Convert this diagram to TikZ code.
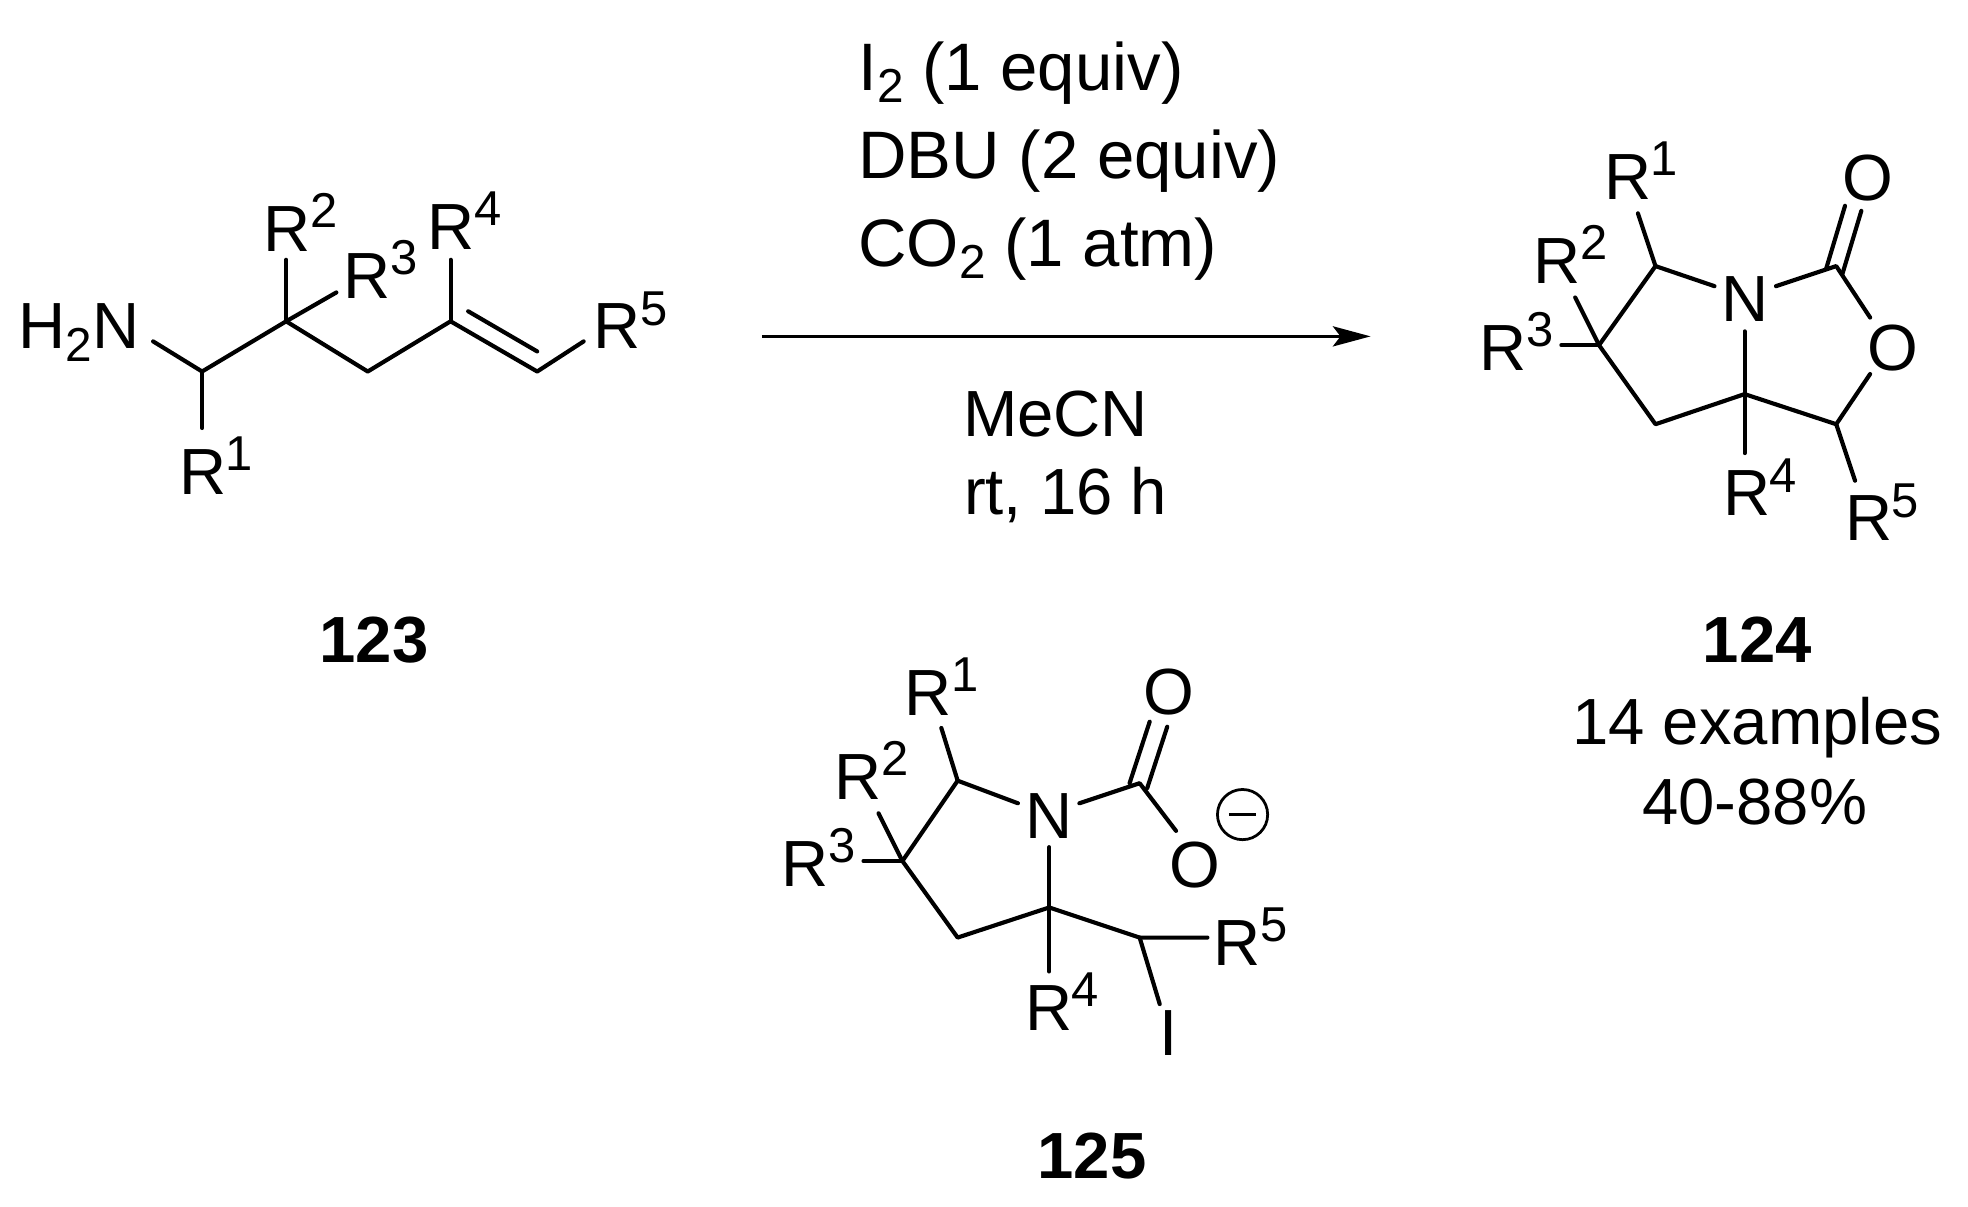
\documentclass[tikz,border=0pt]{standalone}
\usepackage{fontspec}
\setmainfont{Liberation Sans}
\usetikzlibrary{arrows.meta}
\tikzset{
 x=1pt,y=-1pt,
 bond/.style={line width=3.3pt,line cap=round,line join=round},
 atom/.style={inner sep=0pt,outer sep=0pt,anchor=base west,font=\fontsize{52}{52}\selectfont},
 catom/.style={inner sep=0pt,outer sep=0pt,anchor=base,font=\fontsize{52}{52}\selectfont},
 lab/.style={inner sep=0pt,outer sep=0pt,anchor=base west,font=\fontsize{53.5}{53.5}\selectfont},
 clab/.style={inner sep=0pt,outer sep=0pt,anchor=base,font=\fontsize{52}{52}\selectfont},
 cpd/.style={inner sep=0pt,outer sep=0pt,anchor=base,font=\fontsize{52}{52}\selectfont\bfseries},
}
\newcommand{\Rr}[1]{R\kern-0.5pt\raisebox{19pt}{\fontsize{39}{39}\selectfont #1}}
\newcommand{\Sbb}[1]{\raisebox{-10pt}{\fontsize{38}{38}\selectfont #1}}
\begin{document}
\begin{tikzpicture}
\useasboundingbox[fill=white] (0,0) rectangle (1568,961);
% 123
\node[atom] (nh) at (15,278) {H\Sbb{2}N};
\node[atom] (r1a) at (143,394) {\Rr{1}};
\node[atom] (r2a) at (210,200) {\Rr{2}};
\node[atom] (r3a) at (274,238) {\Rr{3}};
\node[atom] (r4a) at (341,199) {\Rr{4}};
\node[atom] (r5a) at (473,278) {\Rr{5}};
\coordinate (a1) at (161,296);
\coordinate (a2) at (228,256);
\coordinate (a3) at (293,296);
\coordinate (a4) at (359,256);
\coordinate (a5) at (428,296);
\coordinate (x1) at (122,272);
\coordinate (x2) at (465,272);
\draw[bond] (x1) -- (a1) -- (a2) -- (a3) -- (a4) -- (a5) -- (x2);
\draw[bond] (373,248) -- (428,280);
\draw[bond] (a1) -- (161,341);
\draw[bond] (a2) -- (228,207);
\draw[bond] (a2) -- (268,233);
\draw[bond] (a4) -- (359,207);
\node[cpd] (c123) at (298,528) {123};
% conditions
\node[lab] (c1) at (684,72) {I\Sbb{2} (1 equiv)};
\node[lab] (c2) at (684,142) {DBU (2 equiv)};
\node[lab] (c3) at (684,212) {CO\Sbb{2} (1 atm)};
\node[clab] (c4) at (841,348) {MeCN};
\node[clab] (c5) at (849,410) {rt, 16 h};
\coordinate (s) at (607,268);
\coordinate (e) at (1092,268);
\draw[line width=2.6pt,-{Stealth[length=30pt,width=16pt,inset=6pt]}] (s) -- (e);
% 124
\node[atom] (r1b) at (1278,159) {\Rr{1}};
\node[atom] (r2b) at (1222,226) {\Rr{2}};
\node[atom] (r3b) at (1179,295) {\Rr{3}};
\node[catom] (nb) at (1390,256) {N};
\node[catom] (o1b) at (1488,160) {O};
\node[catom] (o2b) at (1508,295) {O};
\node[atom] (r4b) at (1373,411) {\Rr{4}};
\node[atom] (r5b) at (1470,431) {\Rr{5}};
\coordinate (b1) at (1319,212);
\coordinate (b2) at (1274,275);
\coordinate (b3) at (1319,338);
\coordinate (b4) at (1390,314);
\coordinate (b5) at (1463,338);
\coordinate (b6) at (1463,212);
\draw[bond] (b1) -- (1366,228);
\draw[bond] (b1) -- (b2) -- (b3) -- (b4) -- (b5) -- (1490,298);
\draw[bond] (b4) -- (1390,264);
\draw[bond] (1415,228) -- (b6) -- (1490,253);
\draw[bond] (b1) -- (1305,170);
\draw[bond] (b2) -- (1255,237);
\draw[bond] (b2) -- (1244,275);
\draw[bond] (b4) -- (1390,361);
\draw[bond] (b5) -- (1478,383);
\draw[bond] (1455,214) -- (1470,164);
\draw[bond] (1468,218) -- (1483,168);
\node[cpd] (c124) at (1400,528) {124};
\node[clab] (t1) at (1400,593) {14 examples};
\node[clab] (t2) at (1398,657) {40-88\%};
% 125
\node[atom] (r1c) at (721,570) {\Rr{1}};
\node[atom] (r2c) at (665,637) {\Rr{2}};
\node[atom] (r3c) at (623,706) {\Rr{3}};
\node[catom] (nc) at (836,668) {N};
\node[catom] (o1c) at (931,569) {O};
\node[catom] (o2c) at (952,707) {O};
\node[atom] (r4c) at (817,821) {\Rr{4}};
\node[atom] (r5c) at (967,769) {\Rr{5}};
\node[catom] (ic) at (931,841) {I};
\node[circle,draw,line width=2.2pt,minimum size=40pt,inner sep=0pt] (minus) at (990,649) {};
\draw[line width=3pt] (minus.center) +(-11,0) -- +(11,0);
\coordinate (d1) at (763,622);
\coordinate (d2) at (719,686);
\coordinate (d3) at (763,747);
\coordinate (d4) at (836,723);
\coordinate (d5) at (908,747);
\coordinate (d6) at (908,624);
\draw[bond] (d1) -- (811,640);
\draw[bond] (d1) -- (d2) -- (d3) -- (d4) -- (d5) -- (962,747);
\draw[bond] (d4) -- (836,675);
\draw[bond] (860,640) -- (d6) -- (937,662);
\draw[bond] (d1) -- (750,580);
\draw[bond] (d2) -- (700,648);
\draw[bond] (d2) -- (688,686);
\draw[bond] (d4) -- (836,774);
\draw[bond] (d5) -- (924,800);
\draw[bond] (900,624) -- (916,575);
\draw[bond] (914,628) -- (930,579);
\node[cpd] (c125) at (870,939) {125};
\end{tikzpicture}
\end{document}
